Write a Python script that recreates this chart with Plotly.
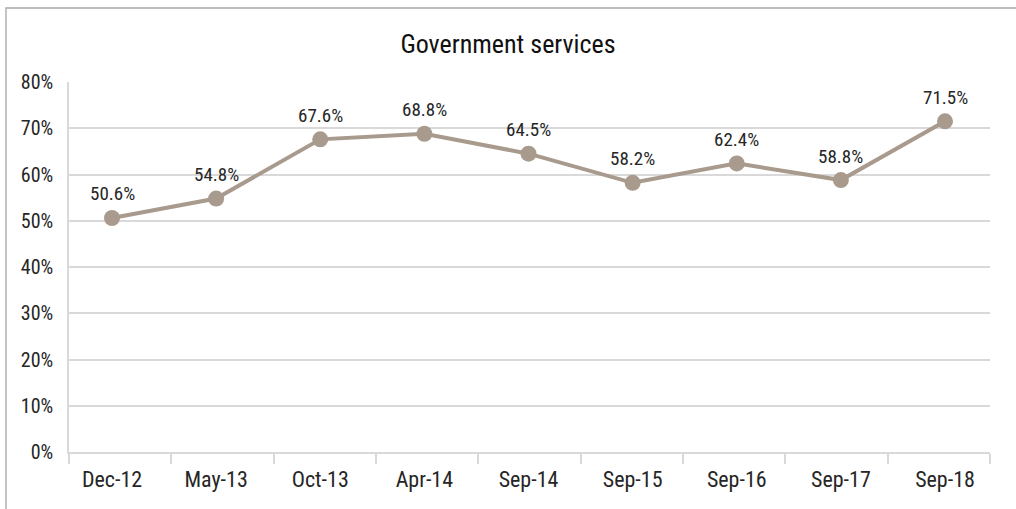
import plotly.graph_objects as go

# Survey waves and share of respondents (%)
periods = ["Dec-12", "May-13", "Oct-13", "Apr-14", "Sep-14",
           "Sep-15", "Sep-16", "Sep-17", "Sep-18"]
share = [50.6, 54.8, 67.6, 68.8, 64.5, 58.2, 62.4, 58.8, 71.5]
y_ticks = [0, 10, 20, 30, 40, 50, 60, 70, 80]

FONT = "Roboto Condensed, DejaVu Sans Condensed, Roboto, sans-serif"
LINE = "#A89A8D"
GRID = "#D9D9D9"
TEXT = "#262626"

W, H = 1016, 509
ML, MR, MT, MB = 69, 26, 82, 57
pw, ph = W - ML - MR, H - MT - MB

idx = list(range(len(periods)))
n = len(periods)

fig = go.Figure(go.Scatter(
    x=idx, y=share,
    mode="lines+markers",
    line=dict(color=LINE, width=4),
    marker=dict(color=LINE, size=16),
    cliponaxis=False,
    hoverinfo="skip",
))

# invisible trace carrying the category-boundary tick axis
fig.add_trace(go.Scatter(x=[0, n], y=[0, 0], xaxis="x2", mode="markers",
                         marker=dict(opacity=0), hoverinfo="skip"))

# value labels above each point
for i, v in zip(idx, share):
    fig.add_annotation(x=i, y=v, text=f"{v:.1f}%", showarrow=False,
                       yshift=24, yanchor="middle",
                       font=dict(family=FONT, size=19, color=TEXT))

# outer chart frame (pixel coords converted to paper units)
def px_x(p):
    return (p - ML) / pw

def px_y(p):
    return (H - MB - p) / ph

fig.add_shape(type="rect", xref="paper", yref="paper",
              x0=px_x(6), x1=px_x(1030), y0=px_y(8), y1=px_y(530),
              line=dict(color="#A6A6A6", width=1.3), layer="below")

fig.update_layout(
    width=W, height=H,
    margin=dict(l=ML, r=MR, t=MT, b=MB),
    paper_bgcolor="white", plot_bgcolor="white",
    showlegend=False,
    title=dict(text="Government services", x=0.5, xref="container", xanchor="center",
               y=1 - 44 / H, yanchor="middle",
               font=dict(family=FONT, size=26, color="#111111")),
    font=dict(family=FONT, color=TEXT),
    xaxis=dict(
        range=[-0.413, n - 1 + 0.432], tickvals=idx, ticktext=periods,
        ticks="", showline=False, showgrid=False, zeroline=False,
        ticklabelstandoff=12,
        tickfont=dict(family=FONT, size=22, color=TEXT),
    ),
    xaxis2=dict(
        overlaying="x", side="bottom", range=[0, n],
        tickvals=list(range(n + 1)), showticklabels=False,
        ticks="outside", ticklen=10, tickcolor=GRID, tickwidth=1.5,
        showline=True, linecolor=GRID, linewidth=1.5,
        showgrid=False, zeroline=False,
    ),
    yaxis=dict(
        range=[0, 80], tickvals=y_ticks, ticktext=[f"{t}%" for t in y_ticks],
        showgrid=True, gridcolor=GRID, gridwidth=1.5,
        showline=True, linecolor=GRID, linewidth=1.5,
        zeroline=False, ticks="", ticklabelstandoff=10,
        tickfont=dict(family=FONT, size=20, color=TEXT),
    ),
)

fig.write_html("out.html")
